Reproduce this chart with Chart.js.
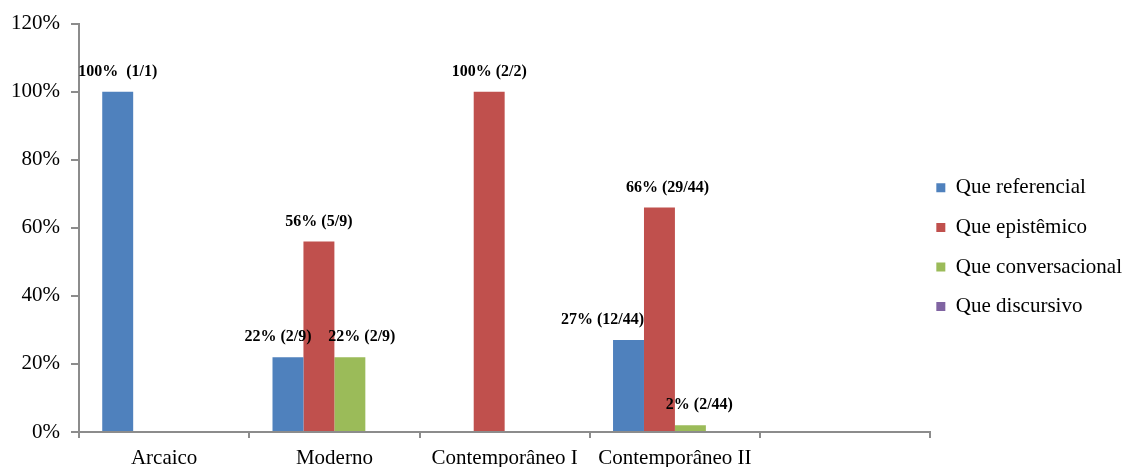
<!DOCTYPE html>
<html>
<head>
<meta charset="utf-8">
<script src="https://cdn.jsdelivr.net/npm/chart.js@4/dist/chart.umd.min.js"></script>
<style>
  html, body { margin: 0; padding: 0; background: #fff; }
  #wrap { width: 1122px; height: 467px; }
</style>
</head>
<body>
<div id="wrap"><canvas id="chart"></canvas></div>
<script>
const categories = ["Arcaico", "Moderno", "Contemporâneo I", "Contemporâneo II", ""];
const seriesNames = ["Que referencial", "Que epistêmico", "Que conversacional", "Que discursivo"];

const referencial    = [100, 22, 0, 27, null];
const epistemico     = [0, 56, 100, 66, null];
const conversacional = [0, 22, 0, 2, null];
const discursivo     = [0, 0, 0, 0, null];

const referencialLabels    = ["100%  (1/1)", "22% (2/9)", "", "27% (12/44)", ""];
const epistemicoLabels     = ["", "56% (5/9)", "100% (2/2)", "66% (29/44)", ""];
const conversacionalLabels = ["", "22% (2/9)", "", "2% (2/44)", ""];
const discursivoLabels     = ["", "", "", "", ""];

const yTicks = [0, 20, 40, 60, 80, 100, 120];

const COLORS = ["#4F81BD", "#C0504D", "#9BBB59", "#8064A2"];
const SERIF = "'Liberation Serif', 'Times New Roman', serif";
const AXIS = "#8c8c8c";

// small sideways nudges for a few labels, like the hand-placed ones in the original
const LABEL_NUDGE = [[0, -10, 0, -26, 0], [0, 0, 0, 8, 0], [0, 12, 0, 9, 0], [0, 0, 0, 0, 0]];

const allValues = [referencial, epistemico, conversacional, discursivo];
const allLabels = [referencialLabels, epistemicoLabels, conversacionalLabels, discursivoLabels];

const barLabels = {
  id: "barLabels",
  afterDatasetsDraw(chart) {
    const ctx = chart.ctx;
    ctx.save();
    ctx.font = "bold 16px " + SERIF;
    ctx.fillStyle = "#000";
    ctx.textAlign = "center";
    ctx.textBaseline = "middle";
    chart.data.datasets.forEach((ds, i) => {
      chart.getDatasetMeta(i).data.forEach((bar, j) => {
        const txt = allLabels[i][j];
        if (!txt) return;
        ctx.fillText(txt, bar.x + LABEL_NUDGE[i][j], bar.y - 20);
      });
    });
    ctx.restore();
  }
};

new Chart(document.getElementById("chart"), {
  type: "bar",
  data: {
    labels: categories,
    datasets: seriesNames.map((name, i) => ({
      label: name,
      data: allValues[i],
      backgroundColor: COLORS[i],
      borderWidth: 0,
      categoryPercentage: 0.727,
      barPercentage: 1.0
    }))
  },
  options: {
    responsive: true,
    maintainAspectRatio: false,
    animation: false,
    layout: { padding: { top: 9, left: 0, right: -10, bottom: -12 } },
    plugins: {
      tooltip: { enabled: false },
      legend: {
        position: "right",
        align: "center",
        title: { display: true, text: "", font: { size: 10, lineHeight: 1.2 }, padding: { top: 3, bottom: 4 } },
        labels: {
          boxWidth: 9,
          boxHeight: 9,
          padding: 6,
          color: "#000",
          font: { family: SERIF, size: 21, lineHeight: 1.6 },
          // text as a one-line array so each row takes the font's line height
          generateLabels: (chart) => Chart.defaults.plugins.legend.labels.generateLabels(chart)
            .map(item => Object.assign(item, { text: [item.text] }))
        }
      }
    },
    scales: {
      x: {
        grid: { drawOnChartArea: false, color: AXIS, tickLength: 6, lineWidth: 2 },
        border: { color: AXIS, width: 2 },
        ticks: { color: "#000", font: { family: SERIF, size: 21, lineHeight: 1.0 }, padding: 10, maxRotation: 0, autoSkip: false }
      },
      y: {
        min: 0,
        max: 120,
        afterBuildTicks: (axis) => { axis.ticks = yTicks.map(v => ({ value: v })); },
        grid: { drawOnChartArea: false, color: AXIS, tickLength: 8, lineWidth: 2 },
        border: { color: AXIS, width: 2 },
        ticks: { color: "#000", font: { family: SERIF, size: 21 }, padding: 11, callback: v => v + "%" }
      }
    }
  },
  plugins: [barLabels]
});
</script>
</body>
</html>
